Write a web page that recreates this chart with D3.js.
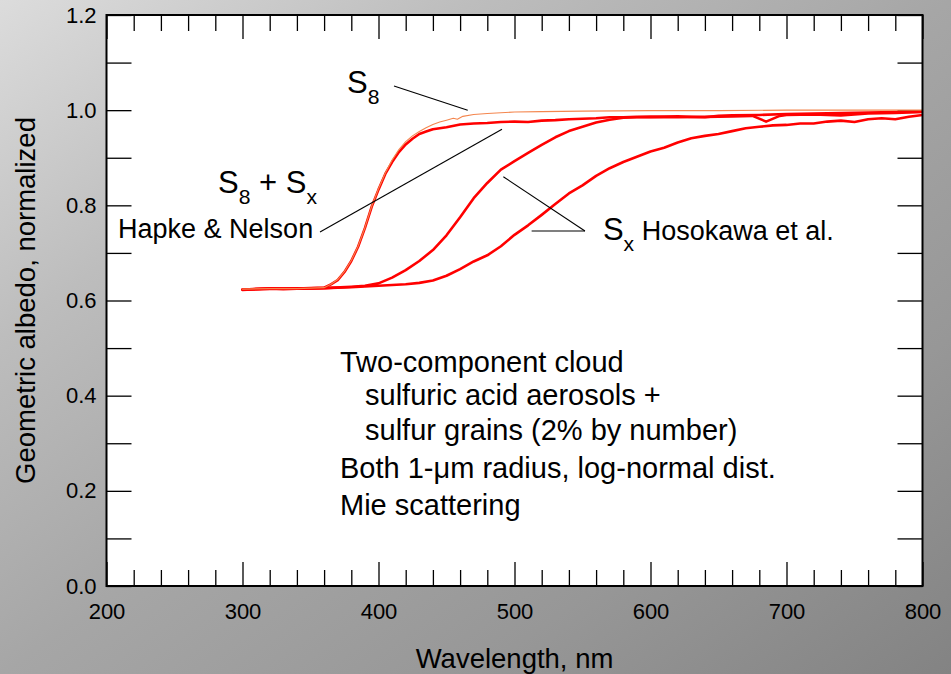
<!DOCTYPE html>
<html>
<head>
<meta charset="utf-8">
<script src="https://cdn.jsdelivr.net/npm/d3@7"></script>
<style>
  html, body { margin: 0; padding: 0; }
  body { width: 951px; height: 674px; overflow: hidden; }
  svg { display: block; font-family: "Liberation Sans", Arial, Helvetica, sans-serif; }
</style>
</head>
<body>
<svg id="chart" width="951" height="674"></svg>
<script>
// Geometric albedo spectra of a two-component cloud model (normalized)

// S8 grains only
const s8Wavelength = [300, 320, 340, 360, 365, 370, 375, 380, 385, 390, 395, 400, 405, 410, 415, 420, 425, 430, 435, 440, 445, 450, 455, 458, 462, 470, 480, 500, 520, 550, 600, 650, 700, 750, 800];
const s8Albedo     = [0.624, 0.625, 0.625, 0.627, 0.634, 0.644, 0.661, 0.684, 0.714, 0.753, 0.798, 0.835, 0.868, 0.895, 0.917, 0.934, 0.946, 0.955, 0.963, 0.970, 0.975, 0.979, 0.983, 0.981, 0.987, 0.991, 0.993, 0.996, 0.997, 0.998, 0.999, 0.999, 1.000, 1.000, 1.000];

// S8 + Sx, Hapke & Nelson
const hnWavelength = [300, 310, 320, 330, 340, 350, 360, 365, 370, 375, 380, 385, 390, 395, 400, 405, 410, 415, 420, 425, 430, 435, 440, 445, 450, 460, 470, 480, 490, 500, 510, 520, 530, 540, 550, 560, 570, 580, 590, 600, 620, 640, 650, 660, 680, 700, 720, 740, 760, 780, 800];
const hnAlbedo     = [0.622, 0.624, 0.625, 0.624, 0.625, 0.626, 0.627, 0.634, 0.643, 0.660, 0.683, 0.713, 0.752, 0.797, 0.833, 0.866, 0.891, 0.912, 0.928, 0.940, 0.950, 0.955, 0.960, 0.962, 0.964, 0.970, 0.972, 0.973, 0.975, 0.976, 0.975, 0.978, 0.979, 0.981, 0.982, 0.983, 0.985, 0.985, 0.986, 0.986, 0.987, 0.985, 0.988, 0.989, 0.990, 0.992, 0.993, 0.994, 0.995, 0.996, 0.997];

// Sx, Hosokawa et al. (shorter-wavelength edge)
const hoAWavelength = [300, 320, 340, 360, 380, 390, 400, 410, 420, 430, 440, 450, 460, 470, 480, 490, 500, 510, 520, 530, 540, 550, 560, 570, 580, 590, 600, 620, 640, 660, 675, 685, 695, 700, 720, 740, 760, 780, 800];
const hoAAlbedo     = [0.623, 0.625, 0.625, 0.626, 0.629, 0.631, 0.636, 0.648, 0.664, 0.683, 0.706, 0.737, 0.775, 0.815, 0.847, 0.875, 0.893, 0.910, 0.927, 0.943, 0.956, 0.965, 0.974, 0.980, 0.984, 0.985, 0.986, 0.985, 0.986, 0.987, 0.988, 0.976, 0.988, 0.990, 0.991, 0.989, 0.993, 0.994, 0.996];

// Sx, Hosokawa et al. (longer-wavelength edge)
const hoBWavelength = [300, 320, 340, 360, 380, 400, 420, 430, 440, 450, 460, 470, 480, 490, 500, 510, 520, 530, 540, 550, 560, 570, 580, 590, 600, 610, 620, 630, 640, 650, 660, 670, 680, 690, 700, 710, 720, 730, 740, 750, 760, 770, 780, 790, 800];
const hoBAlbedo     = [0.623, 0.625, 0.625, 0.626, 0.628, 0.631, 0.634, 0.637, 0.642, 0.652, 0.666, 0.682, 0.695, 0.714, 0.738, 0.758, 0.780, 0.803, 0.825, 0.842, 0.862, 0.878, 0.891, 0.902, 0.913, 0.921, 0.932, 0.941, 0.946, 0.950, 0.956, 0.962, 0.965, 0.968, 0.969, 0.972, 0.972, 0.976, 0.978, 0.975, 0.981, 0.983, 0.981, 0.986, 0.990];

// Axis ticks
const xMajorTicks = [200, 300, 400, 500, 600, 700, 800];
const xMinorTicks = d3.range(220, 800, 20).filter(v => v % 100 !== 0);
const yTicks = [0.0, 0.1, 0.2, 0.3, 0.4, 0.5, 0.6, 0.7, 0.8, 0.9, 1.0, 1.1, 1.2];
const yLabelled = [0.0, 0.2, 0.4, 0.6, 0.8, 1.0, 1.2];

const xTitle = "Wavelength, nm";
const yTitle = "Geometric albedo, normalized";

const noteLines = [
  { text: "Two-component cloud", indent: false },
  { text: "sulfuric acid aerosols +", indent: true },
  { text: "sulfur grains (2% by number)", indent: true },
  { text: "Both 1-\u03bcm radius, log-normal dist.", indent: false },
  { text: "Mie scattering", indent: false }
];

// ---------------------------------------------------------------
const W = 951, H = 674;
const plot = { left: 106.5, right: 922.5, top: 15, bottom: 586 };

const svg = d3.select("#chart");

// backdrop gradient
const defs = svg.append("defs");
const grad = defs.append("linearGradient")
  .attr("id", "bg").attr("x1", 0).attr("y1", 0).attr("x2", 1).attr("y2", 1);
[[0, "#dcdcdc"], [0.25, "#bdbdbd"], [0.5, "#a6a6a6"], [0.75, "#979797"], [1, "#838383"]]
  .forEach(([o, c]) => grad.append("stop").attr("offset", o).attr("stop-color", c));
svg.append("rect").attr("width", W).attr("height", H).attr("fill", "url(#bg)");

const x = d3.scaleLinear().domain([200, 800]).range([plot.left, plot.right]);
const y = d3.scaleLinear().domain([0, 1.2]).range([plot.bottom, plot.top]);

svg.append("rect")
  .attr("x", plot.left).attr("y", plot.top)
  .attr("width", plot.right - plot.left).attr("height", plot.bottom - plot.top)
  .attr("fill", "#ffffff");

const clip = defs.append("clipPath").attr("id", "plotclip");
clip.append("rect")
  .attr("x", plot.left).attr("y", plot.top)
  .attr("width", plot.right - plot.left).attr("height", plot.bottom - plot.top);

function styleAxis(g) {
  g.select(".domain").remove();
  g.selectAll(".tick line").attr("stroke", "#000").attr("stroke-width", 1.3);
  g.selectAll(".tick text").attr("fill", "#000");
}

// x axis: bottom (labelled) and top, ticks pointing inward
svg.append("g").attr("transform", `translate(0,${plot.bottom})`)
  .call(d3.axisBottom(x).tickValues(xMajorTicks).tickSizeInner(-24).tickSizeOuter(0)
    .tickPadding(17).tickFormat(d3.format("d")))
  .call(styleAxis)
  .call(g => g.selectAll("text").attr("font-size", 22).attr("font-family", null));
svg.append("g").attr("transform", `translate(0,${plot.bottom})`)
  .call(d3.axisBottom(x).tickValues(xMinorTicks).tickSizeInner(-16).tickSizeOuter(0).tickFormat(""))
  .call(styleAxis);
svg.append("g").attr("transform", `translate(0,${plot.top})`)
  .call(d3.axisTop(x).tickValues(xMajorTicks).tickSizeInner(-24).tickSizeOuter(0).tickFormat(""))
  .call(styleAxis);
svg.append("g").attr("transform", `translate(0,${plot.top})`)
  .call(d3.axisTop(x).tickValues(xMinorTicks).tickSizeInner(-16).tickSizeOuter(0).tickFormat(""))
  .call(styleAxis);

// y axis: left (labelled) and right
const yFmt = d3.format(".1f");
svg.append("g").attr("transform", `translate(${plot.left},0)`)
  .call(d3.axisLeft(y).tickValues(yTicks).tickSizeInner(-25).tickSizeOuter(0).tickPadding(10)
    .tickFormat(d => yLabelled.some(v => Math.abs(v - d) < 1e-9) ? yFmt(d) : ""))
  .call(styleAxis)
  .call(g => g.selectAll("text").attr("font-size", 22).attr("font-family", null));
svg.append("g").attr("transform", `translate(${plot.right},0)`)
  .call(d3.axisRight(y).tickValues(yTicks).tickSizeInner(-25).tickSizeOuter(0).tickFormat(""))
  .call(styleAxis);

// curves
const line = d3.line().x(d => x(d[0])).y(d => y(d[1]));
const zip = (a, b) => a.map((v, i) => [v, b[i]]);
const curves = svg.append("g").attr("clip-path", "url(#plotclip)")
  .attr("fill", "none").attr("stroke-linejoin", "round").attr("stroke-linecap", "round");

[[hoBWavelength, hoBAlbedo], [hoAWavelength, hoAAlbedo], [hnWavelength, hnAlbedo]].forEach(([w, a]) => {
  curves.append("path").attr("d", line(zip(w, a)))
    .attr("stroke", "#ff0000").attr("stroke-width", 2.6);
});
curves.append("path").attr("d", line(zip(s8Wavelength, s8Albedo)))
  .attr("stroke", "#f4864e").attr("stroke-width", 1.1);

// frame
svg.append("rect")
  .attr("x", plot.left).attr("y", plot.top)
  .attr("width", plot.right - plot.left).attr("height", plot.bottom - plot.top)
  .attr("fill", "none").attr("stroke", "#000").attr("stroke-width", 2);

// axis titles
svg.append("text")
  .attr("x", (plot.left + plot.right) / 2).attr("y", 668)
  .attr("text-anchor", "middle").attr("font-size", 27.5).attr("fill", "#000")
  .text(xTitle);
svg.append("text")
  .attr("transform", `translate(35,${(plot.top + plot.bottom) / 2}) rotate(-90)`)
  .attr("text-anchor", "middle").attr("font-size", 27.5).attr("fill", "#000")
  .text(yTitle);

// leader lines (data coordinates)
const leaders = [
  [[411.4, 1.051], [465.6, 1.000]],
  [[357.0, 0.744], [490.8, 0.960]],
  [[491.8, 0.860], [551.8, 0.746]],
  [[512.6, 0.746], [551.8, 0.746]]
];
svg.append("g").attr("stroke", "#000").attr("stroke-width", 1.1)
  .selectAll("line").data(leaders).join("line")
  .attr("x1", d => x(d[0][0])).attr("y1", d => y(d[0][1]))
  .attr("x2", d => x(d[1][0])).attr("y2", d => y(d[1][1]));

// labels with subscripts
function subLabel(parts, px, py, size) {
  const t = svg.append("text").attr("x", x(px)).attr("y", y(py))
    .attr("font-size", size).attr("fill", "#000");
  parts.forEach(p => {
    const s = t.append("tspan").text(p.t);
    if (p.sub) s.attr("font-size", size * 0.68).attr("dy", size * 0.34);
    if (p.up) s.attr("dy", -size * 0.34);
    if (p.size) s.attr("font-size", p.size);
  });
  return t;
}
subLabel([{ t: "S" }, { t: "8", sub: true }], 376.8, 1.036, 31);
subLabel([{ t: "S" }, { t: "8", sub: true }, { t: " + S", up: true }, { t: "x", sub: true }], 282, 0.825, 31);
svg.append("text").attr("x", x(208.5)).attr("y", y(0.731))
  .attr("font-size", 27).attr("fill", "#000").text("Hapke & Nelson");
subLabel([{ t: "S" }, { t: "x", sub: true }, { t: " Hosokawa et al.", up: true, size: 27 }], 565, 0.727, 31);

// model description
const noteY = [0.450, 0.380, 0.307, 0.227, 0.149];
svg.append("g").selectAll("text").data(noteLines).join("text")
  .attr("x", d => x(d.indent ? 390.1 : 371.7))
  .attr("y", (d, i) => y(noteY[i]))
  .attr("font-size", 29).attr("fill", "#000")
  .text(d => d.text);
</script>
</body>
</html>
